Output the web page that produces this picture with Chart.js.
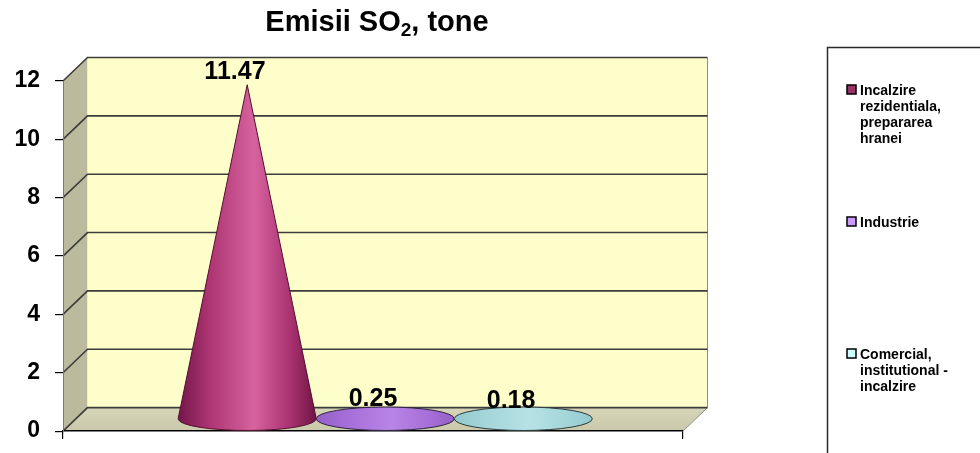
<!DOCTYPE html>
<html>
<head>
<meta charset="utf-8">
<script src="https://cdn.jsdelivr.net/npm/chart.js@4"></script>
<style>
  html, body { margin: 0; padding: 0; background: #ffffff; }
  #wrap { width: 980px; height: 453px; }
</style>
</head>
<body>
<div id="wrap"><canvas id="c" width="980" height="453"></canvas></div>
<script>
// ---- data ----
const categories = [''];
const seriesNames = [
  'Incalzire rezidentiala, prepararea hranei',
  'Industrie',
  'Comercial, institutional - incalzire'
];
const seriesValues = [11.47, 0.25, 0.18];
const seriesColors = ['#993366', '#cc99ff', '#ccffff'];
const yTicks = [0, 2, 4, 6, 8, 10, 12];
const titleParts = ['Emisii SO', '2', ', tone'];

// ---- styling ----
const FONT = '"Liberation Sans", Arial, Helvetica, sans-serif';
const DEPTH = { dx: 24.5, dy: -23.5 };           // 3D depth offset of the back wall
const coneShades = [
  ['#74164a', '#ac3472', '#d6629e', '#a8316f', '#6e1444'],
  ['#9560c8', '#a66ed8', '#b884e6', '#a66ed8', '#9560c8'],
  ['#92c9ce', '#a3d5d9', '#b6e2e5', '#a3d5d9', '#92c9ce']
];
const coneStrokes = ['#55102f', '#2e2440', '#2c3b3c'];

// side wall, floor, back wall and gridlines of the 3D plot box
function drawWalls(chart) {
  const ctx = chart.ctx;
  const y = chart.scales.y;
  const a = chart.chartArea;
  const L = a.left, R = a.right;
  const yTop = y.getPixelForValue(12), y0 = y.getPixelForValue(0);
  const { dx, dy } = DEPTH;
  ctx.save();
  ctx.fillStyle = '#bcba9c';
  ctx.beginPath();
  ctx.moveTo(L, yTop); ctx.lineTo(L + dx, yTop + dy); ctx.lineTo(L + dx, y0 + dy); ctx.lineTo(L, y0);
  ctx.closePath(); ctx.fill();
  const fg = ctx.createLinearGradient(0, y0 + dy, 0, y0);
  fg.addColorStop(0, '#d6d5b8'); fg.addColorStop(1, '#c9c8a9');
  ctx.fillStyle = fg;
  ctx.beginPath();
  ctx.moveTo(L, y0); ctx.lineTo(L + dx, y0 + dy); ctx.lineTo(R + dx, y0 + dy); ctx.lineTo(R, y0);
  ctx.closePath(); ctx.fill();
  ctx.fillStyle = '#fefecb';
  ctx.fillRect(L + dx, yTop + dy, R - L, y0 - yTop);
  ctx.strokeStyle = '#8c8c8c';
  ctx.lineWidth = 1;
  ctx.beginPath();
  ctx.moveTo(R + dx, yTop + dy); ctx.lineTo(R + dx, y0 + dy); ctx.lineTo(R, y0);
  ctx.stroke();
  ctx.strokeStyle = '#3c3c3c';
  ctx.lineWidth = 1.6;
  y.ticks.forEach(t => {
    const py = y.getPixelForValue(t.value);
    ctx.beginPath();
    ctx.moveTo(L, py); ctx.lineTo(L + dx, py + dy); ctx.lineTo(R + dx, py + dy);
    ctx.stroke();
  });
  ctx.restore();
}

// a shaded cone: apex at the value, elliptic base on the floor
function drawCone(ctx, cx, apexY, cy, rx, ry, shade, stroke) {
  const h = cy - apexY;
  const grad = ctx.createLinearGradient(cx - rx, 0, cx + rx, 0);
  grad.addColorStop(0, shade[0]);
  grad.addColorStop(0.22, shade[1]);
  grad.addColorStop(0.55, shade[2]);
  grad.addColorStop(0.82, shade[3]);
  grad.addColorStop(1, shade[4]);
  ctx.save();
  ctx.fillStyle = grad;
  ctx.beginPath();
  if (h > ry * 1.05) {
    const yt = -ry * ry / h;
    const xt = rx * Math.sqrt(1 - (ry * ry) / (h * h));
    const t = Math.atan2(yt / ry, xt / rx);
    ctx.moveTo(cx, apexY);
    ctx.lineTo(cx + xt, cy + yt);
    ctx.ellipse(cx, cy, rx, ry, 0, t, Math.PI - t, false);
    ctx.closePath();
  } else {
    ctx.ellipse(cx, cy, rx, ry, 0, 0, Math.PI * 2);
  }
  ctx.fill();
  ctx.strokeStyle = stroke;
  ctx.lineWidth = 1;
  ctx.stroke();
  ctx.restore();
}

function wrapText(ctx, text, maxWidth) {
  const words = text.split(' ');
  const lines = [];
  let line = '';
  words.forEach(w => {
    const test = line ? line + ' ' + w : w;
    if (line && ctx.measureText(test).width > maxWidth) { lines.push(line); line = w; }
    else line = test;
  });
  if (line) lines.push(line);
  return lines;
}

const conePlugin = {
  id: 'cones3d',
  beforeDraw(chart) {
    drawWalls(chart);
  },
  beforeDatasetsDraw() {
    return false; // cones are drawn in afterDraw instead of flat bars
  },
  afterDraw(chart) {
    const ctx = chart.ctx;
    const { dx, dy } = DEPTH;
    const ry = Math.abs(dy) / 2;
    chart.data.datasets.forEach((ds, i) => {
      const bar = chart.getDatasetMeta(i).data[0];
      const cx = bar.x + dx / 2;
      drawCone(ctx, cx, bar.y + dy / 2, bar.base + dy / 2, bar.width / 2, ry, coneShades[i], coneStrokes[i]);
    });

    // value labels
    ctx.save();
    ctx.fillStyle = '#000';
    ctx.font = 'bold 25px ' + FONT;
    ctx.textAlign = 'center';
    ctx.textBaseline = 'alphabetic';
    chart.data.datasets.forEach((ds, i) => {
      const bar = chart.getDatasetMeta(i).data[0];
      ctx.fillText(ds.data[0].toFixed(2), bar.x, bar.y - 17.5);
    });
    ctx.restore();

    // title with subscript
    ctx.save();
    ctx.fillStyle = '#000';
    ctx.textBaseline = 'alphabetic';
    ctx.textAlign = 'left';
    const big = 'bold 29px ' + FONT, small = 'bold 19px ' + FONT;
    ctx.font = big; const w1 = ctx.measureText(titleParts[0]).width; const w3 = ctx.measureText(titleParts[2]).width;
    ctx.font = small; const w2 = ctx.measureText(titleParts[1]).width;
    let tx = 377 - (w1 + w2 + w3) / 2;
    const base = 31;
    ctx.font = big; ctx.fillText(titleParts[0], tx, base); tx += w1;
    ctx.font = small; ctx.fillText(titleParts[1], tx, base + 5); tx += w2;
    ctx.font = big; ctx.fillText(titleParts[2], tx, base);
    ctx.restore();

    // legend box
    ctx.save();
    ctx.strokeStyle = '#2a2a2a';
    ctx.lineWidth = 1.5;
    ctx.strokeRect(827.5, 47.5, 200, 450);
    ctx.font = 'bold 14px ' + FONT;
    ctx.textBaseline = 'alphabetic';
    chart.data.datasets.forEach((ds, i) => {
      const top = 85 + 132 * i;
      ctx.fillStyle = ds.backgroundColor;
      ctx.fillRect(847, top, 9, 9);
      ctx.strokeStyle = '#000';
      ctx.lineWidth = 1.5;
      ctx.strokeRect(847, top, 9, 9);
      ctx.fillStyle = '#000';
      wrapText(ctx, ds.label, 110).forEach((ln, k) => {
        ctx.fillText(ln, 860, top + 10 + 16 * k);
      });
    });
    ctx.restore();
  }
};

new Chart(document.getElementById('c'), {
  type: 'bar',
  data: {
    labels: categories,
    datasets: seriesNames.map((name, i) => ({
      label: name,
      data: [seriesValues[i]],
      backgroundColor: seriesColors[i],
      categoryPercentage: 0.668,
      barPercentage: 1.0
    }))
  },
  options: {
    responsive: false,
    animation: false,
    devicePixelRatio: 1,
    layout: { padding: { top: 81, right: 297, bottom: 10.7, left: 0 } },
    plugins: { legend: { display: false }, title: { display: false }, tooltip: { enabled: false } },
    scales: {
      x: {
        type: 'category',
        offset: true,
        ticks: { display: false },
        grid: { display: true, offset: true, drawOnChartArea: false, drawTicks: true, tickLength: 8, color: '#000', lineWidth: 1.2 },
        border: { display: true, color: '#000', width: 1.5 },
        afterFit(s) { s.height = 8; }
      },
      y: {
        min: 0,
        max: 12,
        afterBuildTicks(s) { s.ticks = yTicks.map(v => ({ value: v })); },
        ticks: { color: '#000', padding: 15, font: { family: FONT, size: 23, weight: 'bold', lineHeight: 0.6 } },
        grid: { drawOnChartArea: false, drawTicks: true, tickLength: 8, color: '#000', lineWidth: 1.2 },
        border: { display: true, color: '#7a7a7a', width: 1 },
        afterFit(s) { s.width = 63; }
      }
    }
  },
  plugins: [conePlugin]
});
</script>
</body>
</html>
